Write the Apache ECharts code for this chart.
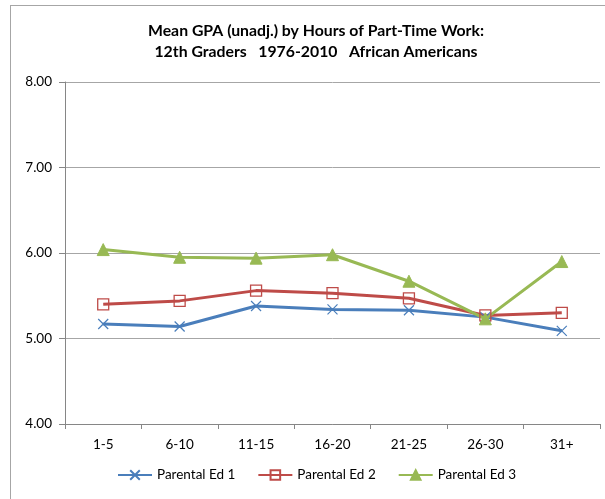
<!DOCTYPE html>
<html><head><meta charset="utf-8">
<script src="https://cdn.jsdelivr.net/npm/echarts@6/dist/echarts.min.js"></script>
<style>
html,body{margin:0;padding:0;background:#fff;}
#frame{position:absolute;left:10px;top:5px;width:600px;height:500px;border-left:1px solid #a6a6a6;border-top:1px solid #a6a6a6;}
#c{position:absolute;left:0;top:0;width:605px;height:499px;}
</style></head>
<body>
<div id="frame"></div>
<div id="c"></div>
<script>
const categories = ['1-5','6-10','11-15','16-20','21-25','26-30','31+'];
const parentalEd1 = [5.17, 5.14, 5.38, 5.34, 5.33, 5.25, 5.09];
const parentalEd2 = [5.40, 5.44, 5.56, 5.53, 5.47, 5.27, 5.30];
const parentalEd3 = [6.04, 5.95, 5.94, 5.98, 5.67, 5.23, 5.90];
const seriesNames = ['Parental Ed 1','Parental Ed 2','Parental Ed 3'];
const titleLines = ['Mean GPA (unadj.) by Hours of Part-Time Work:', '12th Graders   1976-2010   African Americans'];

const font = 'Lato, "Open Sans", sans-serif';
const chart = echarts.init(document.getElementById('c'), null, {renderer:'canvas'});
chart.setOption({
  animation:false,
  title:{text:titleLines.join('\n'), left:311, textAlign:'center', top:15,
    textStyle:{fontFamily:font, fontSize:15.8, fontWeight:'bold', color:'#000', lineHeight:21}},
  grid:{left:65, right:5, top:82, bottom:75},
  legend:{bottom:12, left:112, itemWidth:34, itemHeight:12, itemGap:22,
    textStyle:{fontFamily:font, fontSize:13.5, color:'#000'},
    data:seriesNames},
  xAxis:{type:'category', data:categories, boundaryGap:true,
    axisLine:{lineStyle:{color:'#868686', width:1}},
    axisTick:{show:true, length:5, lineStyle:{color:'#868686'}},
    axisLabel:{fontFamily:font, fontSize:13.5, color:'#000', margin:14}},
  yAxis:{type:'value', min:4, max:8, interval:1,
    axisLine:{show:true, lineStyle:{color:'#868686'}},
    axisTick:{show:true, length:6, lineStyle:{color:'#868686'}},
    axisLabel:{fontFamily:font, fontSize:13.5, color:'#000', margin:13, formatter:v=>v.toFixed(2)},
    splitLine:{lineStyle:{color:'#a6a6a6', width:1}}},
  series:[
    {name:seriesNames[0], type:'line', data:parentalEd1, symbol:'path://M0,0L10,10M10,0L0,10', symbolSize:10,
      lineStyle:{color:'#4A7EBB', width:3}, itemStyle:{color:'#4A7EBB', borderColor:'#4A7EBB', borderWidth:1.2}},
    {name:seriesNames[1], type:'line', data:parentalEd2, symbol:'rect', symbolSize:11,
      lineStyle:{color:'#BE4B48', width:3}, itemStyle:{color:'rgba(255,255,255,0)', borderColor:'#BE4B48', borderWidth:1.3}},
    {name:seriesNames[2], type:'line', data:parentalEd3, symbol:'triangle', symbolSize:12,
      lineStyle:{color:'#98B954', width:3}, itemStyle:{color:'#98B954', borderColor:'#98B954', borderWidth:1}}
  ]
});
</script>
</body></html>
